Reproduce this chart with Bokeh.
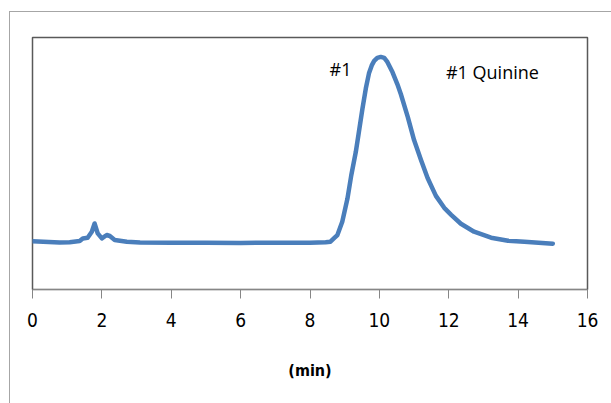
from bokeh.plotting import figure
from bokeh.models import Range1d, FixedTicker, Label
from bokeh.embed import file_html
from bokeh.resources import INLINE

# Chromatogram trace (time in min, detector signal in arbitrary units)
time_min = [0.00, 0.78, 1.07, 1.36, 1.45, 1.59, 1.71, 1.79, 1.88, 2.00, 2.14, 2.23,
            2.37, 2.72, 3.10, 4.0, 5.0, 6.0, 7.0, 8.0, 8.45, 8.59, 8.71, 8.79, 8.93,
            9.08, 9.19, 9.32, 9.40, 9.51, 9.61, 9.70, 9.78, 9.85, 9.94, 10.04, 10.14,
            10.23, 10.38, 10.52, 10.62, 10.82, 11.00, 11.20, 11.39, 11.63, 11.87,
            12.07, 12.35, 12.73, 13.22, 13.71, 14.18, 15.0]
signal = [48.5, 47.3, 47.5, 48.7, 51.3, 52.0, 58.0, 66.3, 56.3, 51.3, 54.7, 53.7,
          49.7, 48.0, 47.3, 47.0, 47.0, 46.8, 47.0, 47.0, 47.5, 48.0, 52.0, 54.7, 68.0,
          91.3, 114.7, 138.0, 156.0, 181.0, 202.0, 217.0, 225.0, 229.5, 232.5, 233.5, 232.5,
          228.5, 218.0, 206.0, 196.0, 173.0, 150.0, 130.0, 112.0, 94.0, 82.0,
          75.0, 66.0, 58.0, 52.0, 49.0, 48.0, 46.0]
x_ticks = [0, 2, 4, 6, 8, 10, 12, 14, 16]
peak_label = "#1"
legend_text = "#1 Quinine"
x_label = "(min)"

p = figure(width=602, height=392, output_backend="svg", toolbar_location=None,
           x_range=Range1d(0, 16), y_range=Range1d(0, 253),
           min_border_left=22, min_border_right=25, min_border_top=25, min_border_bottom=115)
p.margin = (11, 0, 0, 9)
p.styles = {"border-left": "1.5px solid #a6a6a6", "border-top": "1.5px solid #a6a6a6"}

p.line(time_min, signal, line_color="#4a7ebb", line_width=4.5, line_join="round", line_cap="round")

p.yaxis.visible = False
p.xgrid.visible = False
p.ygrid.visible = False
p.outline_line_color = "#595959"
p.outline_line_width = 1.5

narrow = "DejaVu Sans Condensed, Liberation Sans"
xa = p.xaxis[0]
xa.ticker = FixedTicker(ticks=x_ticks)
xa.minor_tick_line_color = None
xa.major_tick_in = 0
xa.major_tick_out = 9
xa.major_tick_line_color = "#868686"
xa.axis_line_color = "#868686"
xa.major_label_standoff = 14
xa.major_label_text_font = narrow
xa.major_label_text_font_size = "19px"
xa.major_label_text_color = "#000000"
xa.axis_label = x_label
xa.axis_label_text_font = narrow
xa.axis_label_text_font_size = "16px"
xa.axis_label_text_font_style = "bold"
xa.axis_label_text_color = "#000000"
xa.axis_label_standoff = 31

p.add_layout(Label(x=8.88, y=221, text=peak_label, text_font="Open Sans", text_font_size="18px",
                   text_color="#000000", text_align="center", text_baseline="middle"))
p.add_layout(Label(x=11.92, y=218, text=legend_text, text_font="Open Sans", text_font_size="18px",
                   text_color="#000000", text_align="left", text_baseline="middle"))

open("out.html", "w").write(file_html(p, INLINE))
